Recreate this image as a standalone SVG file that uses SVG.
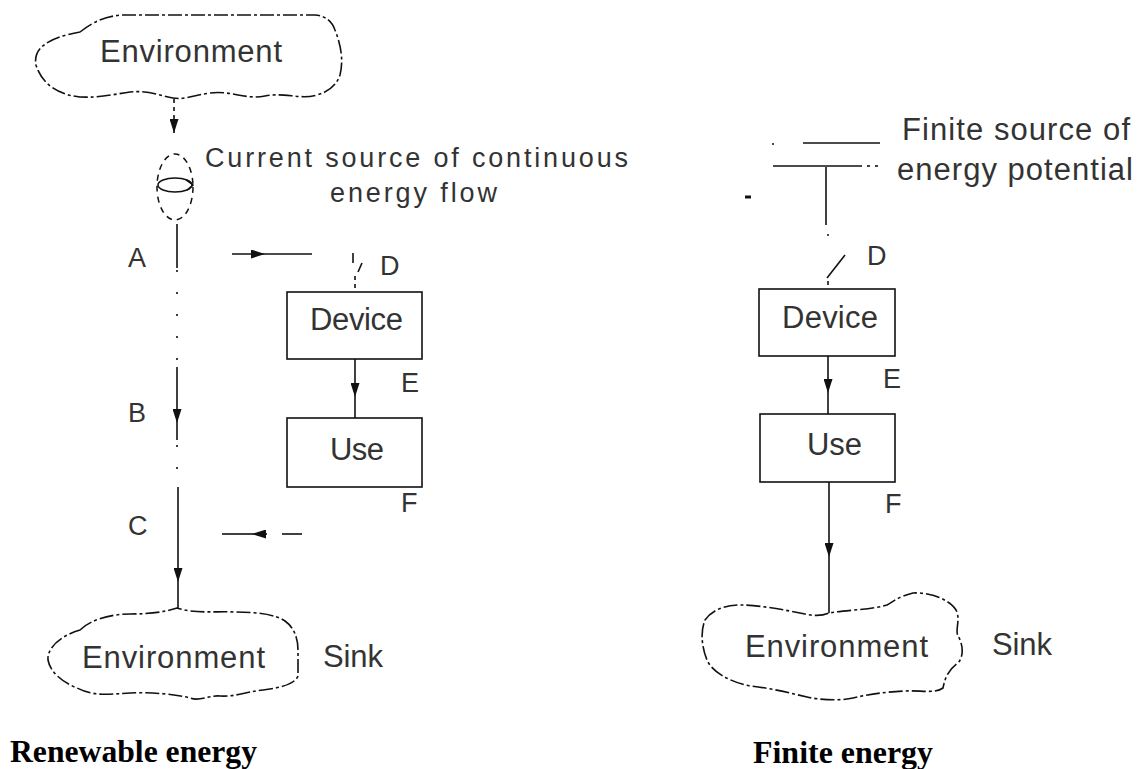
<svg xmlns="http://www.w3.org/2000/svg" width="1142" height="769" viewBox="0 0 1142 769">
  <style>
    .bg { fill: #ffffff; }
    .cloud { fill: none; stroke: #111; stroke-width: 1.6; stroke-dasharray: 14 3 3 3; stroke-linejoin: round; }
    .box { fill: none; stroke: #111; stroke-width: 1.6; }
    .ln { fill: none; stroke: #111; stroke-width: 1.6; }
    .dot { fill: none; stroke: #111; stroke-width: 1.6; stroke-dasharray: 2 20; }
    .dsh { fill: none; stroke: #111; stroke-width: 1.6; stroke-dasharray: 4 4; }
    .lbl { font-family: "Liberation Sans", Arial, sans-serif; font-size: 31px; fill: #333; }
    .sm { font-family: "Liberation Sans", Arial, sans-serif; font-size: 27px; fill: #333; }
    .ltr { font-family: "Liberation Sans", Arial, sans-serif; font-size: 27px; fill: #333; }
    .title { font-family: "Liberation Serif", "Times New Roman", serif; font-size: 31px; font-weight: bold; fill: #000; }
  </style>
  <defs>
    <marker id="ah" viewBox="0 0 14 9" refX="14" refY="4.5" markerWidth="14" markerHeight="9" markerUnits="userSpaceOnUse" orient="auto">
      <path d="M0,0 L14,4.5 L0,9 Z" fill="#111"/>
    </marker>
  </defs>
  <rect class="bg" x="0" y="0" width="1142" height="769"/>

  <!-- ===== Renewable energy (left) ===== -->
  <g id="env-top">
    <path class="cloud" d="M 80 32 C 95 20, 110 15, 125 15 L 315 15 Q 330 16, 335 30 Q 345 55, 340 75 Q 335 90, 317 95 C 300 100, 285 92, 265 96 C 245 100, 230 90, 210 93 C 195 95, 185 100, 173 98 C 160 96, 150 90, 130 92 C 115 94, 100 98, 80 97 C 60 95, 42 85, 36 65 C 33 50, 45 38, 80 32 Z"/>
    <text class="lbl" x="100" y="62" textLength="182" lengthAdjust="spacing">Environment</text>
  </g>

  <g id="source-continuous">
    <ellipse cx="175" cy="187" rx="18" ry="33" fill="none" stroke="#111" stroke-width="1.5" stroke-dasharray="6 5"/>
    <ellipse cx="175" cy="185" rx="17" ry="7" fill="none" stroke="#111" stroke-width="1.5"/>
    <polyline points="186,180 193,185 187,190" fill="none" stroke="#111" stroke-width="1.5"/>
    <text class="sm" x="205" y="167" textLength="423" lengthAdjust="spacing">Current source of continuous</text>
    <text class="sm" x="330" y="202" textLength="167" lengthAdjust="spacing">energy flow</text>
  </g>

  <g id="device-left">
    <rect class="box" x="287" y="292" width="135" height="67"/>
    <text class="lbl" x="310" y="330" textLength="93" lengthAdjust="spacing">Device</text>
  </g>

  <g id="use-left">
    <rect class="box" x="287" y="418" width="135" height="69"/>
    <text class="lbl" x="330" y="460" textLength="54" lengthAdjust="spacing">Use</text>
  </g>

  <g id="env-sink-left">
    <path class="cloud" d="M 80 630 C 90 620, 110 614, 130 614 C 150 614, 165 612, 177 608 C 195 614, 215 611, 235 612 C 255 612, 275 614, 285 621 C 295 628, 298 640, 298 650 L 298 676 C 295 684, 280 688, 263 690 C 245 692, 235 697, 220 696 C 208 695, 200 702, 190 698 C 175 694, 150 692, 130 693 C 110 694, 95 697, 77 688 C 62 682, 50 672, 48 660 C 47 648, 60 636, 80 630 Z"/>
    <text class="lbl" x="82" y="668" textLength="183" lengthAdjust="spacing">Environment</text>
    <text class="lbl" x="323" y="667" textLength="60" lengthAdjust="spacing">Sink</text>
  </g>

  <g id="labels-left">
    <text class="ltr" x="128" y="267">A</text>
    <text class="ltr" x="128" y="422">B</text>
    <text class="ltr" x="128" y="535">C</text>
    <text class="ltr" x="380" y="275">D</text>
    <text class="ltr" x="401" y="392">E</text>
    <text class="ltr" x="401" y="512">F</text>
  </g>

  <!-- ===== Finite energy (right) ===== -->
  <g id="finite-source">
    <line class="ln" x1="803" y1="143" x2="880" y2="143"/>
    <line class="ln" x1="773" y1="166" x2="862" y2="166"/>
    <line class="ln" x1="867" y1="166" x2="870" y2="166"/>
    <line class="ln" x1="875" y1="166" x2="878" y2="166"/>
    <circle cx="773" cy="144" r="1" fill="#111"/>
    <line x1="745" y1="197" x2="751" y2="197" stroke="#111" stroke-width="3"/>
    <text class="lbl" x="902" y="140" textLength="228" lengthAdjust="spacing">Finite source of</text>
    <text class="lbl" x="897" y="180" textLength="236" lengthAdjust="spacing">energy potential</text>
  </g>

  <g id="device-right">
    <rect class="box" x="759" y="289" width="136" height="67"/>
    <text class="lbl" x="782" y="328" textLength="96" lengthAdjust="spacing">Device</text>
  </g>

  <g id="use-right">
    <rect class="box" x="760" y="414" width="135" height="68"/>
    <text class="lbl" x="807" y="455" textLength="55" lengthAdjust="spacing">Use</text>
  </g>

  <g id="env-sink-right">
    <path class="cloud" d="M 705 620 C 712 610, 725 605, 740 605 C 760 605, 785 610, 805 614 C 815 616, 822 616, 829 613 C 845 610, 870 610, 887 605 C 893 602, 897 597, 913 593 C 930 592, 952 600, 957 612 C 960 622, 955 630, 958 636 C 962 642, 965 655, 958 663 C 948 670, 945 678, 943 688 C 935 694, 920 690, 905 691 C 885 692, 870 694, 853 698 C 840 701, 820 700, 807 697 C 790 693, 770 688, 750 686 C 730 682, 712 672, 707 660 C 702 648, 700 632, 705 620 Z"/>
    <text class="lbl" x="745" y="657" textLength="183" lengthAdjust="spacing">Environment</text>
    <text class="lbl" x="992" y="655" textLength="60" lengthAdjust="spacing">Sink</text>
  </g>

  <g id="labels-right">
    <text class="ltr" x="867" y="265">D</text>
    <text class="ltr" x="883" y="388">E</text>
    <text class="ltr" x="885" y="513">F</text>
  </g>

  <!-- ===== Connectors ===== -->
  <g id="connectors">
    <!-- left column -->
    <path class="dsh" d="M174 99 V120"/>
    <path class="ln" d="M174 120 V133" marker-end="url(#ah)"/>
    <path class="ln" d="M177 224 V268"/>
    <path class="dot" d="M177 270 V367"/>
    <path class="ln" d="M177 367 V423" marker-end="url(#ah)"/>
    <path class="ln" d="M177 423 V440"/>
    <path class="dot" d="M177 445 V487"/>
    <path class="ln" d="M178 487 V582" marker-end="url(#ah)"/>
    <path class="ln" d="M178 582 V608"/>
    <!-- A : to device -->
    <path class="ln" d="M232 254 H265" marker-end="url(#ah)"/>
    <path class="ln" d="M265 254 H312"/>
    <path class="ln" d="M353 253 V263"/>
    <path class="ln" d="M362 263 L358 272"/>
    <path class="dsh" d="M355 276 V292"/>
    <!-- E : device to use -->
    <path class="ln" d="M355 359 V397" marker-end="url(#ah)"/>
    <path class="ln" d="M355 397 V418"/>
    <!-- C : return to main flow -->
    <path class="ln" d="M267 534 H252" marker-end="url(#ah)"/>
    <path class="ln" d="M252 534 H222"/>
    <path class="ln" d="M282 534 H302"/>

    <!-- right column -->
    <path class="ln" d="M826 167 V225"/>
    <circle cx="828" cy="235" r="1" fill="#111"/>
    <path class="ln" d="M845 255 L827 278"/>
    <path class="dsh" d="M828 281 V289"/>
    <path class="ln" d="M828 356 V393" marker-end="url(#ah)"/>
    <path class="ln" d="M828 393 V414"/>
    <path class="ln" d="M829 482 V557" marker-end="url(#ah)"/>
    <path class="ln" d="M829 557 V613"/>
  </g>

  <g id="titles">
    <text class="title" x="10" y="762" textLength="247" lengthAdjust="spacingAndGlyphs">Renewable energy</text>
    <text class="title" x="753" y="763" textLength="180" lengthAdjust="spacingAndGlyphs">Finite energy</text>
  </g>
</svg>
